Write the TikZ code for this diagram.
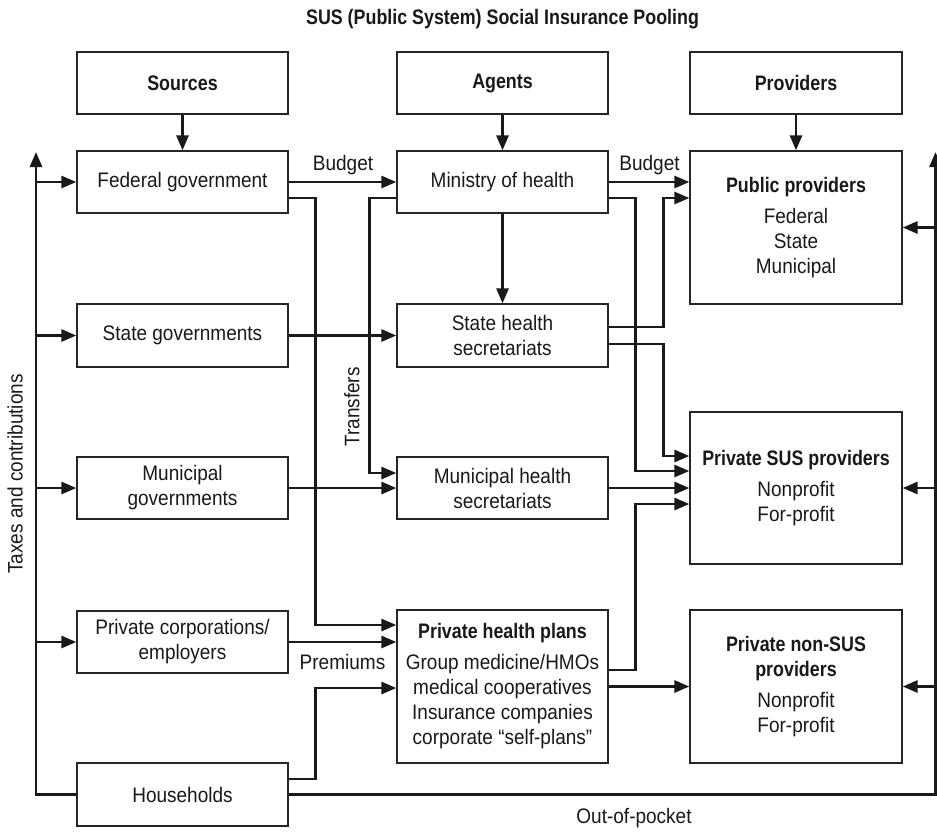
\documentclass[tikz,border=0pt]{standalone}
\usepackage{fontspec}
\setmainfont{Liberation Sans}[FakeStretch=0.905, BoldFeatures={FakeStretch=0.85}]
\usetikzlibrary{arrows.meta}
\newcommand\fsz{\fontsize{21}{25}\selectfont}
\begin{document}
\begin{tikzpicture}[x=1pt,y=-1pt,
  box/.style={draw=black!85, line width=1.3pt, align=center, inner sep=0pt,
              minimum width=211pt, minimum height=62pt, font=\fsz, text=black!90},
  conn/.style={line width=2.8pt, draw=black!90},
  arr/.style={conn, -{Triangle[length=15pt,width=12pt]}},
  lbl/.style={font=\fsz, inner sep=0pt, text=black!90}]
\useasboundingbox (0,0) rectangle (937,831);
\fill[white] (0,0) rectangle (937,831);

% title
\node[lbl, font=\fsz\bfseries] (title) at (502.5,19) {SUS (Public System) Social Insurance Pooling};

% header boxes
\node[box] (src) at (182.5,83) {\textbf{Sources}};
\node[box] (agt) at (502.5,83) {\textbf{Agents}};
\node[box, minimum width=212pt] (prv) at (796,83) {\textbf{Providers}};

% sources
\node[box] (fed) at (182.5,182) {Federal government};
\node[box, minimum height=63pt] (stg) at (182.5,335.5) {State governments};
\node[box] (mun) at (182.5,488) {Municipal\\governments};
\node[box] (pcorp) at (182.5,642) {Private corporations/\\employers};
\node[box, minimum height=63pt] (hh) at (182.5,794.5) {Households};

% agents
\node[box] (moh) at (502.5,182) {Ministry of health};
\node[box, minimum height=63pt] (shs) at (502.5,335.5) {State health\\secretariats};
\node[box] (mhs) at (502.5,488) {Municipal health\\secretariats};
\node[box, minimum height=153pt] (php) at (502.5,686.5)
  {\textbf{Private health plans}\\[6pt]Group medicine/HMOs\\medical cooperatives\\Insurance companies\\corporate “self-plans”};

% providers
\node[box, minimum width=212pt, minimum height=153pt] (pub) at (796,227.5)
  {\textbf{Public providers}\\[6pt]Federal\\State\\Municipal};
\node[box, minimum width=212pt, minimum height=152pt] (psus) at (796,488)
  {\textbf{Private SUS providers}\\[6pt]Nonprofit\\For-profit};
\node[box, minimum width=212pt, minimum height=153pt] (nsus) at (796,686.5)
  {\textbf{Private non-SUS}\\\textbf{providers}\\[6pt]Nonprofit\\For-profit};

% labels
\node[lbl] (bud1) at (343,165) {Budget};
\node[lbl] (bud2) at (649.5,165) {Budget};
\node[lbl, rotate=90] (trans) at (352,407) {Transfers};
\node[lbl] (prem) at (342.5,662) {Premiums};
\node[lbl] (oop) at (634,818) {Out-of-pocket};
\node[lbl, rotate=90] (tax) at (15,474) {Taxes and contributions};

% bus coordinates
\coordinate (lbus) at (36,0);
\coordinate (ltop) at (36,152);
\coordinate (rbus) at (935.5,0);
\coordinate (rtop) at (935.5,152);

% header arrows
\draw[arr] (src) -- (fed);
\draw[arr] (agt) -- (moh);
\draw[arr] (prv) -- (pub);
\draw[arr] (moh) -- (shs);

% left bus
\draw[arr] (hh.west) -| (ltop);
\draw[arr] (lbus |- fed.west) -- (fed.west);
\draw[arr] (lbus |- stg.west) -- (stg.west);
\draw[arr] (lbus |- mun.west) -- (mun.west);
\draw[arr] (lbus |- pcorp.west) -- (pcorp.west);

% right bus
\draw[arr] (hh.east) -| (rtop);
\draw[arr] (rbus |- pub.east) -- (pub.east);
\draw[arr] (rbus |- psus.east) -- (psus.east);
\draw[arr] (rbus |- nsus.east) -- (nsus.east);

% federal
\draw[arr] (fed) -- (moh);
\draw[arr] ([yshift=-16pt]fed.east) -- ++(27pt,0) |- ([yshift=61.5pt]php.west);

% ministry
\draw[arr] (moh.east) -- ([yshift=45.5pt]pub.west);
\draw[arr] ([yshift=-16pt]moh.east) -- ++(27pt,0) |- ([yshift=17pt]psus.west);
\draw[arr] ([yshift=-16pt]moh.west) -- ++(-27pt,0) |- ([yshift=15pt]mhs.west);

% state
\draw[arr] (stg) -- (shs);
\draw[arr] ([yshift=8.5pt]shs.east) -- ++(55pt,0) |- ([yshift=29.5pt]pub.west);
\draw[arr] ([yshift=-8.5pt]shs.east) -- ++(55pt,0) |- ([yshift=32pt]psus.west);

% municipal
\draw[arr] (mun) -- (mhs);
\draw[arr] (mhs) -- (psus);

% private
\draw[arr] (pcorp.east) -- ([yshift=44.5pt]php.west);
\draw[arr] ([yshift=15.5pt]hh.east) -- ++(27pt,0) |- ([yshift=-1.5pt]php.west);
\draw[arr] ([yshift=16.5pt]php.east) -- ++(27pt,0) |- ([yshift=-16pt]psus.west);
\draw[arr] (php) -- (nsus);
\end{tikzpicture}
\end{document}
